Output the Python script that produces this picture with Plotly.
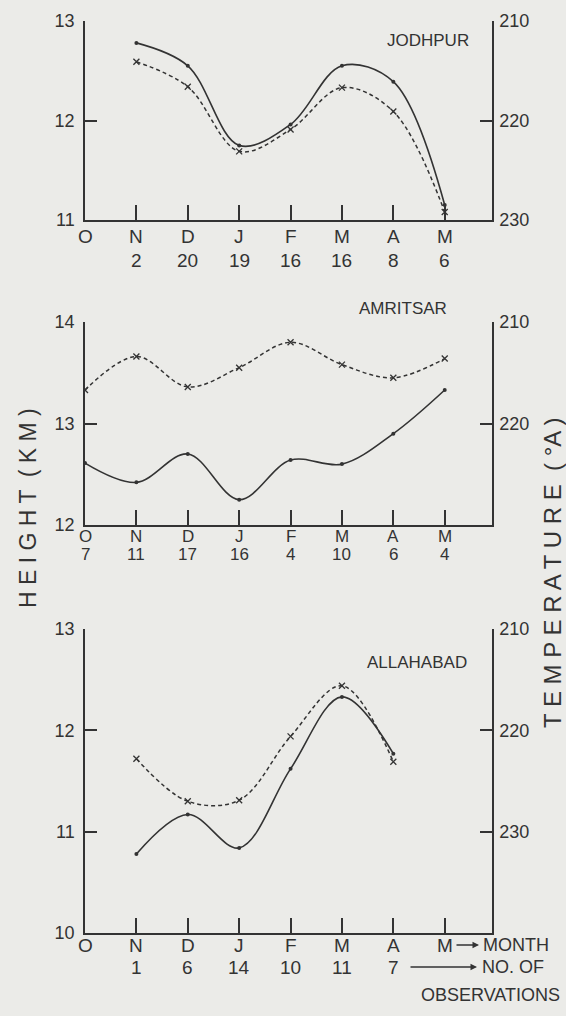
import plotly.graph_objects as go

# ---------------- data ----------------
month_labels = ["O", "N", "D", "J", "F", "M", "A", "M"]
month_pos = [0, 1, 2, 3, 4, 5, 6, 7]

# Jodhpur (N..May)
jod_x = [1, 2, 3, 4, 5, 6, 7]
jod_height = [12.78, 12.55, 11.75, 11.96, 12.55, 12.39, 11.15]
jod_temp = [214.1, 216.6, 223.1, 220.9, 216.7, 219.1, 229.2]
jod_obs = ["", "2", "20", "19", "16", "16", "8", "6"]

# Amritsar (O..May)
amr_x = [0, 1, 2, 3, 4, 5, 6, 7]
amr_height = [12.61, 12.42, 12.70, 12.25, 12.64, 12.60, 12.90, 13.33]
amr_temp = [216.7, 213.4, 216.4, 214.5, 212.0, 214.2, 215.5, 213.6]
amr_obs = ["7", "11", "17", "16", "4", "10", "6", "4"]

# Allahabad (N..A)
all_x = [1, 2, 3, 4, 5, 6]
all_height = [10.78, 11.17, 10.84, 11.62, 12.33, 11.77]
all_temp = [222.8, 227.0, 226.9, 220.6, 215.6, 223.1]
all_obs = ["", "1", "6", "14", "10", "11", "7", ""]

# ---------------- layout helpers ----------------
W, H = 566, 1016
L, R = 85, 74
PW = W - L - R
INK = "#333333"
BG = "#ebebe8"
FONT = "Liberation Sans"


def px_x(px):
    return (px - L) / PW


def px_y(py):
    return (H - py) / H


fig = go.Figure()

panels = [
    dict(x=jod_x, h=jod_height, t=jod_temp, obs=jod_obs, xa="x", ya="y", yr="y4",
         dom=(220, 21), hr=[11, 13], tr=[230, 210], hv=[11, 12, 13], tv=[210, 220, 230],
         name="JODHPUR", nx=428, ny=40, mon_y=236, obs_y=260, fs=19),
    dict(x=amr_x, h=amr_height, t=amr_temp, obs=amr_obs, xa="x2", ya="y2", yr="y5",
         dom=(525, 322), hr=[12, 14], tr=[230, 210], hv=[12, 13, 14], tv=[210, 220],
         name="AMRITSAR", nx=403, ny=308, mon_y=536, obs_y=555, fs=17),
    dict(x=all_x, h=all_height, t=all_temp, obs=all_obs, xa="x3", ya="y3", yr="y6",
         dom=(933, 629), hr=[10, 13], tr=[240, 210], hv=[10, 11, 12, 13], tv=[210, 220, 230],
         name="ALLAHABAD", nx=417, ny=662, mon_y=945, obs_y=967, fs=19),
]

annotations = []
for i, p in enumerate(panels):
    fig.add_trace(go.Scatter(
        x=p["x"], y=p["h"], xaxis=p["xa"], yaxis=p["ya"], mode="lines+markers",
        line=dict(color=INK, width=1.6, shape="spline", smoothing=1.0),
        marker=dict(symbol="circle", size=4, color=INK), showlegend=False,
        hoverinfo="x+y"))
    fig.add_trace(go.Scatter(
        x=p["x"], y=p["t"], xaxis=p["xa"], yaxis=p["yr"], mode="lines+markers",
        line=dict(color=INK, width=1.5, dash="4px,3px", shape="spline", smoothing=1.0),
        marker=dict(symbol="x-thin", size=6, color=INK, line=dict(color=INK, width=1.3)),
        showlegend=False, hoverinfo="x+y"))

    dom = [px_y(p["dom"][0]), px_y(p["dom"][1])]
    k = "" if i == 0 else str(i + 1)
    fig.layout["xaxis" + k] = dict(
        domain=[0, 1], anchor=p["ya"], range=[0, 7.92], automargin=False,
        tickvals=month_pos, showticklabels=False, ticks="inside", ticklen=15,
        tickwidth=1.5, tickcolor=INK, showline=True, linecolor=INK, linewidth=1.5,
        showgrid=False, zeroline=False)
    fig.layout["yaxis" + k] = dict(
        domain=dom, anchor=p["xa"], range=p["hr"], tickvals=p["hv"], automargin=False,
        ticks="inside", ticklen=12, tickwidth=1.5, tickcolor=INK, showline=True,
        linecolor=INK, linewidth=1.5, showgrid=False, zeroline=False,
        tickfont=dict(family=FONT, size=18, color=INK), ticklabelstandoff=5)
    fig.layout["yaxis" + str(i + 4)] = dict(
        domain=dom, anchor=p["xa"], overlaying=p["ya"], side="right", range=p["tr"],
        tickvals=p["tv"], ticks="inside", ticklen=12, tickwidth=1.5, tickcolor=INK,
        automargin=False,
        showline=True, linecolor=INK, linewidth=1.5, showgrid=False, zeroline=False,
        tickfont=dict(family=FONT, size=18, color=INK), ticklabelstandoff=2)

    annotations.append(dict(
        text=p["name"], x=px_x(p["nx"]), y=px_y(p["ny"]), xref="paper", yref="paper",
        showarrow=False, xanchor="center", yanchor="middle",
        font=dict(family=FONT, size=17, color=INK)))
    for xv, m, o in zip(month_pos, month_labels, p["obs"]):
        annotations.append(dict(
            text=m, x=xv, y=px_y(p["mon_y"]), xref=p["xa"], yref="paper",
            showarrow=False, xanchor="center", yanchor="middle",
            font=dict(family=FONT, size=p["fs"], color=INK)))
        if o:
            annotations.append(dict(
                text=o, x=xv, y=px_y(p["obs_y"]), xref=p["xa"], yref="paper",
                showarrow=False, xanchor="center", yanchor="middle",
                font=dict(family=FONT, size=p["fs"], color=INK)))

# axis titles
annotations.append(dict(
    text="H E I G H T  ( K M )", x=px_x(28), y=px_y(508), xref="paper", yref="paper",
    showarrow=False, textangle=-90, xanchor="center", yanchor="middle",
    font=dict(family=FONT, size=23, color=INK)))
annotations.append(dict(
    text="T E M P E R A T U R E  ( °A )", x=px_x(552), y=px_y(573), xref="paper",
    yref="paper", showarrow=False, textangle=-90, xanchor="center", yanchor="middle",
    font=dict(family=FONT, size=24, color=INK)))

# legend notes at bottom
annotations.append(dict(
    text="", x=px_x(479), y=px_y(945), xref="paper", yref="paper",
    showarrow=True, ax=-24, ay=0, arrowhead=2, arrowsize=1, arrowwidth=1.3,
    arrowcolor=INK))
annotations.append(dict(
    text="MONTH", x=px_x(481), y=px_y(945), xref="paper", yref="paper",
    showarrow=False, xanchor="left", yanchor="middle",
    font=dict(family=FONT, size=18, color=INK)))
annotations.append(dict(
    text="NO. OF", x=px_x(480), y=px_y(967), xref="paper", yref="paper",
    showarrow=False, xanchor="left", yanchor="middle",
    font=dict(family=FONT, size=18, color=INK)))
annotations.append(dict(
    text="", x=px_x(477), y=px_y(967), xref="paper", yref="paper",
    showarrow=True, ax=-68, ay=0, arrowhead=2, arrowsize=1, arrowwidth=1.3,
    arrowcolor=INK))
annotations.append(dict(
    text="OBSERVATIONS", x=px_x(562), y=px_y(995), xref="paper", yref="paper",
    showarrow=False, xanchor="right", yanchor="middle",
    font=dict(family=FONT, size=18, color=INK)))

fig.update_layout(
    template="none",
    width=W, height=H, margin=dict(l=L, r=R, t=0, b=0, pad=0, autoexpand=False),
    paper_bgcolor=BG, plot_bgcolor=BG, annotations=annotations,
    shapes=[dict(type="line", xref="x2 domain", yref="y2", x0=1, x1=1, y0=14, y1=14.27,
                 line=dict(color=INK, width=1.5))],
    font=dict(family=FONT, color=INK))

fig.write_html(
    "out.html",
    config={"displayModeBar": False},
    post_script="document.body.style.margin='0';document.body.style.padding='0';"
                "document.body.style.background='#ebebe8';document.body.style.overflow='hidden';")
